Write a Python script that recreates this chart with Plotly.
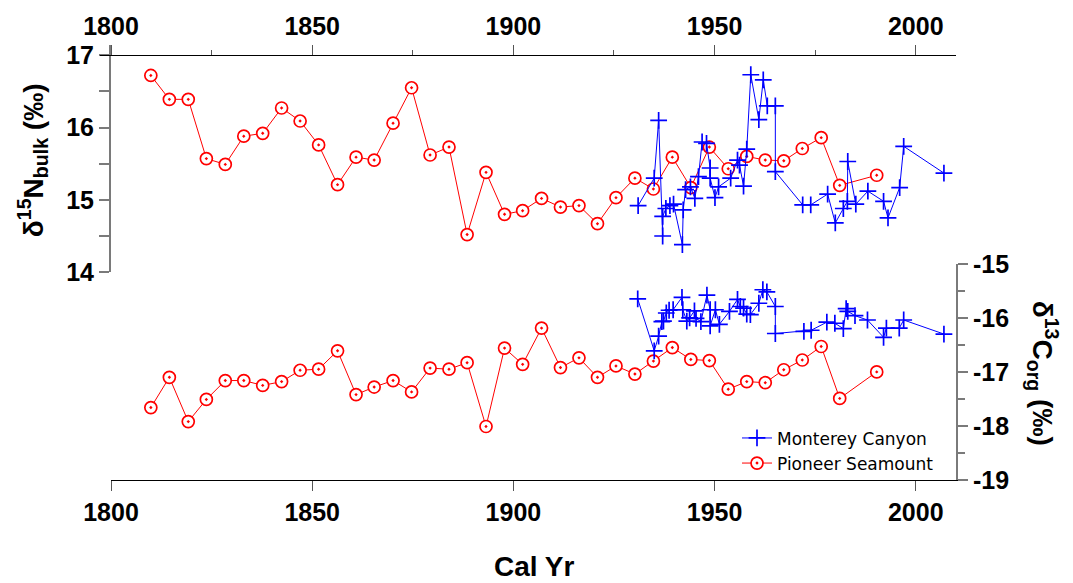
import plotly.graph_objects as go

# ---------------- data ----------------
ps_year = [1809.9, 1814.5, 1819.2, 1823.7, 1828.4, 1833.0, 1837.7, 1842.4, 1847.0, 1851.6,
           1856.3, 1860.9, 1865.4, 1870.1, 1874.7, 1879.3, 1884.0, 1888.5, 1893.2, 1897.8,
           1902.3, 1907.0, 1911.7, 1916.3, 1920.9, 1925.5, 1930.2, 1934.8, 1939.5, 1944.1,
           1948.7, 1953.4, 1958.0, 1962.6, 1967.2, 1971.8, 1976.5, 1981.1, 1990.3]
ps_d15n = [16.72, 16.39, 16.39, 15.57, 15.49, 15.88, 15.92, 16.27, 16.09, 15.76,
           15.21, 15.59, 15.55, 16.06, 16.55, 15.62, 15.73, 14.52, 15.38, 14.80,
           14.85, 15.02, 14.90, 14.92, 14.67, 15.03, 15.30, 15.15, 15.59, 15.17,
           15.73, 15.43, 15.60, 15.55, 15.54, 15.71, 15.86, 15.20, 15.34]
ps_d13c = [-17.66, -17.10, -17.92, -17.51, -17.16, -17.16, -17.25, -17.18, -16.97, -16.95,
           -16.61, -17.42, -17.28, -17.16, -17.37, -16.93, -16.95, -16.83, -18.01, -16.56,
           -16.86, -16.19, -16.92, -16.74, -17.10, -16.89, -17.04, -16.80, -16.55, -16.77,
           -16.79, -17.32, -17.18, -17.20, -16.96, -16.78, -16.53, -17.49, -17.00]

mc_year_n = [1931.0, 1935.0, 1936.1, 1937.1, 1937.1, 1937.9, 1938.9, 1939.8, 1942.0, 1942.2,
             1942.8, 1944.0, 1945.1, 1946.0, 1946.9, 1948.0, 1948.9, 1948.9, 1950.1, 1951.0,
             1954.0, 1955.7, 1956.2, 1957.2, 1958.0, 1959.0, 1961.0, 1962.1, 1963.1, 1965.1,
             1965.1, 1971.9, 1973.9, 1978.1, 1980.0, 1982.0, 1983.0, 1983.1, 1985.1, 1988.1,
             1992.0, 1993.1, 1996.0, 1997.0, 2007.0]
mc_d15n = [14.92, 15.30, 16.10, 14.50, 14.77, 14.88, 14.92, 14.94, 14.38, 14.86,
           15.14, 15.18, 15.02, 15.32, 15.80, 15.78, 15.44, 15.30, 15.03, 15.18,
           15.30, 15.55, 15.48, 15.19, 15.70, 16.73, 16.11, 16.66, 16.30, 16.30,
           15.39, 14.93, 14.93, 15.08, 14.68, 14.88, 14.98, 15.53, 14.94, 15.12,
           14.98, 14.75, 15.17, 15.74, 15.37]

mc_year_c = [1930.9, 1935.0, 1936.1, 1936.9, 1937.3, 1938.0, 1938.7, 1939.7, 1941.9, 1942.1,
             1943.1, 1943.8, 1945.0, 1945.4, 1946.6, 1948.1, 1948.9, 1948.9, 1950.2, 1951.2,
             1953.7, 1955.7, 1956.4, 1957.2, 1958.0, 1958.9, 1961.0, 1962.0, 1963.0, 1965.1,
             1965.1, 1972.2, 1974.0, 1977.9, 1979.9, 1982.0, 1982.7, 1983.1, 1984.9, 1988.0,
             1992.0, 1992.7, 1995.9, 1997.0, 2007.0]
mc_d13c = [-15.65, -16.61, -16.34, -16.07, -16.06, -15.91, -15.86, -15.85, -15.62, -15.85,
           -16.06, -16.00, -15.87, -16.01, -16.07, -15.58, -15.85, -16.15, -15.85, -16.12,
           -15.88, -15.66, -15.79, -15.82, -15.93, -15.94, -15.73, -15.48, -15.52, -15.79,
           -16.29, -16.25, -16.23, -16.08, -16.10, -16.20, -15.83, -15.88, -15.96, -16.04,
           -16.36, -16.19, -16.19, -16.04, -16.30]

x_ticks = [1800, 1850, 1900, 1950, 2000]
x_minor = [1825, 1875, 1925, 1975]
x_ticktext = ["1800", "1850", "1900", "1950", "2000"]
n_ticks = [14, 15, 16, 17]
n_ticktext = ["14", "15", "16", "17"]
c_ticks = [-19, -18, -17, -16, -15]
c_ticktext = ["-19", "-18", "-17", "-16", "-15"]

# ---------------- style ----------------
RED = "#FF0000"
BLUE = "#0000FF"
GRAY = "#7a7a7a"
TICKGRAY = "#555555"
BOLD = dict(family="Liberation Sans, Arial, sans-serif", size=25, color="black", weight="bold")
TITLE = dict(family="Liberation Sans, Arial, sans-serif", size=28, color="black", weight="bold")

red_marker = dict(symbol="circle-dot", size=12, color="white", line=dict(color=RED, width=1.7))
blue_marker = dict(symbol="cross-thin", size=12, color=BLUE, line=dict(color=BLUE, width=1.7))

fig = go.Figure()
# invisible copy so that the decorative top axis (x2) gets a subplot and is drawn
fig.add_trace(go.Scatter(x=ps_year, y=ps_d15n, xaxis="x2", yaxis="y", mode="lines",
                         line=dict(width=0, color="rgba(0,0,0,0)"), opacity=0,
                         hoverinfo="skip", showlegend=False))
fig.add_trace(go.Scatter(x=ps_year, y=ps_d15n, xaxis="x", yaxis="y", mode="lines+markers",
                         line=dict(color=RED, width=1), marker=red_marker,
                         name="Pioneer Seamount", legendgroup="ps", legendrank=2))
fig.add_trace(go.Scatter(x=ps_year, y=ps_d13c, xaxis="x", yaxis="y2", mode="lines+markers",
                         line=dict(color=RED, width=1), marker=red_marker,
                         name="Pioneer Seamount", legendgroup="ps", showlegend=False))
fig.add_trace(go.Scatter(x=mc_year_n, y=mc_d15n, xaxis="x", yaxis="y", mode="lines+markers",
                         line=dict(color=BLUE, width=1), marker=blue_marker,
                         name="Monterey Canyon", legendgroup="mc", legendrank=1))
fig.add_trace(go.Scatter(x=mc_year_c, y=mc_d13c, xaxis="x", yaxis="y2", mode="lines+markers",
                         line=dict(color=BLUE, width=1), marker=blue_marker,
                         name="Monterey Canyon", legendgroup="mc", showlegend=False))

# plot area in page pixels: x 100..956, y 42..480 (body margin removed below)
W, H = 1073, 583
PL, PR, PT, PB = 100, 956, 42, 480
ML, MT = PL, PT
MR = W - PR
MB = H - PB
plot_w = PR - PL
plot_h = PB - PT
xshift = 11  # px the top axis line extends left of the left y-axis
px_per_yr = (plot_w - xshift) / 210.0

y_top_bottom = (PB - 270.7) / plot_h
y_top_range_max = 14 + plot_h * (1 - y_top_bottom) / 72.8
y_bot_top = (PB - 262.3) / plot_h


def px(X):
    return (X - PL) / plot_w


def py(Y):
    return (PB - Y) / plot_h


fig.update_layout(
    width=W, height=H,
    margin=dict(l=ML, r=MR, t=MT, b=MB, pad=0),
    paper_bgcolor="white", plot_bgcolor="rgba(0,0,0,0)",
    showlegend=True,
    xaxis=dict(domain=[xshift / plot_w, 1], range=[1800, 2010], anchor="y2",
               tickmode="array", tickvals=x_ticks, ticktext=x_ticktext,
               ticks="outside", ticklen=10, tickwidth=1, tickcolor=TICKGRAY,
               showline=True, linecolor="black", linewidth=1,
               showgrid=False, zeroline=False, tickfont=BOLD),
    xaxis2=dict(domain=[0, 1], range=[1800 - xshift / px_per_yr, 2010],
                side="top", anchor="free", position=py(52.3),
                tickmode="array", tickvals=x_ticks, ticktext=x_ticktext,
                ticks="outside", ticklen=10, tickwidth=1, tickcolor=TICKGRAY,
                minor=dict(tickmode="array", tickvals=x_minor, ticks="outside", ticklen=5,
                           tickcolor=TICKGRAY, tickwidth=1, showgrid=False),
                showline=True, linecolor="black", linewidth=1,
                showgrid=False, zeroline=False, tickfont=BOLD),
    yaxis=dict(domain=[y_top_bottom, 1], range=[14, y_top_range_max], anchor="x", side="left",
               tickmode="array", tickvals=n_ticks, ticktext=n_ticktext,
               ticks="outside", ticklen=10, tickwidth=1.5, tickcolor=GRAY,
               minor=dict(dtick=0.5, tick0=14, ticks="outside", ticklen=10,
                          tickcolor=GRAY, tickwidth=1.5, showgrid=False),
               showline=True, linecolor=GRAY, linewidth=2,
               showgrid=False, zeroline=False, tickfont=BOLD),
    yaxis2=dict(domain=[0, y_bot_top], range=[-19, -15], anchor="x", side="right",
                tickmode="array", tickvals=c_ticks, ticktext=c_ticktext,
                ticks="outside", ticklen=10, tickwidth=1.5, tickcolor=GRAY,
                minor=dict(dtick=0.5, tick0=-19, ticks="outside", ticklen=7,
                           tickcolor=GRAY, tickwidth=1.5, showgrid=False),
                showline=True, linecolor=GRAY, linewidth=2,
                showgrid=False, zeroline=False, tickfont=BOLD),
    legend=dict(x=px(737), y=py(420), xanchor="left", yanchor="top",
                bgcolor="rgba(0,0,0,0)", borderwidth=0,
                font=dict(family="DejaVu Sans, Verdana, sans-serif", size=17, color="black"),
                tracegroupgap=0),
    annotations=[
        dict(text="Cal Yr", x=px(534), y=py(567),
             xref="paper", yref="paper", xanchor="center", yanchor="middle",
             showarrow=False, font=TITLE),
        dict(text="δ<sup>15</sup>N<sub>bulk</sub> (‰)", x=px(33), y=py(158),
             xref="paper", yref="paper", xanchor="center", yanchor="middle",
             showarrow=False, textangle=-90, font=TITLE),
        dict(text="δ<sup>13</sup>C<sub>org</sub> (‰)", x=px(1043), y=py(372),
             xref="paper", yref="paper", xanchor="center", yanchor="middle",
             showarrow=False, textangle=90, font=TITLE),
    ],
)

fig.write_html("out.html", config={"displayModeBar": False},
               post_script="document.body.style.margin='0';document.body.style.overflow='hidden';")
